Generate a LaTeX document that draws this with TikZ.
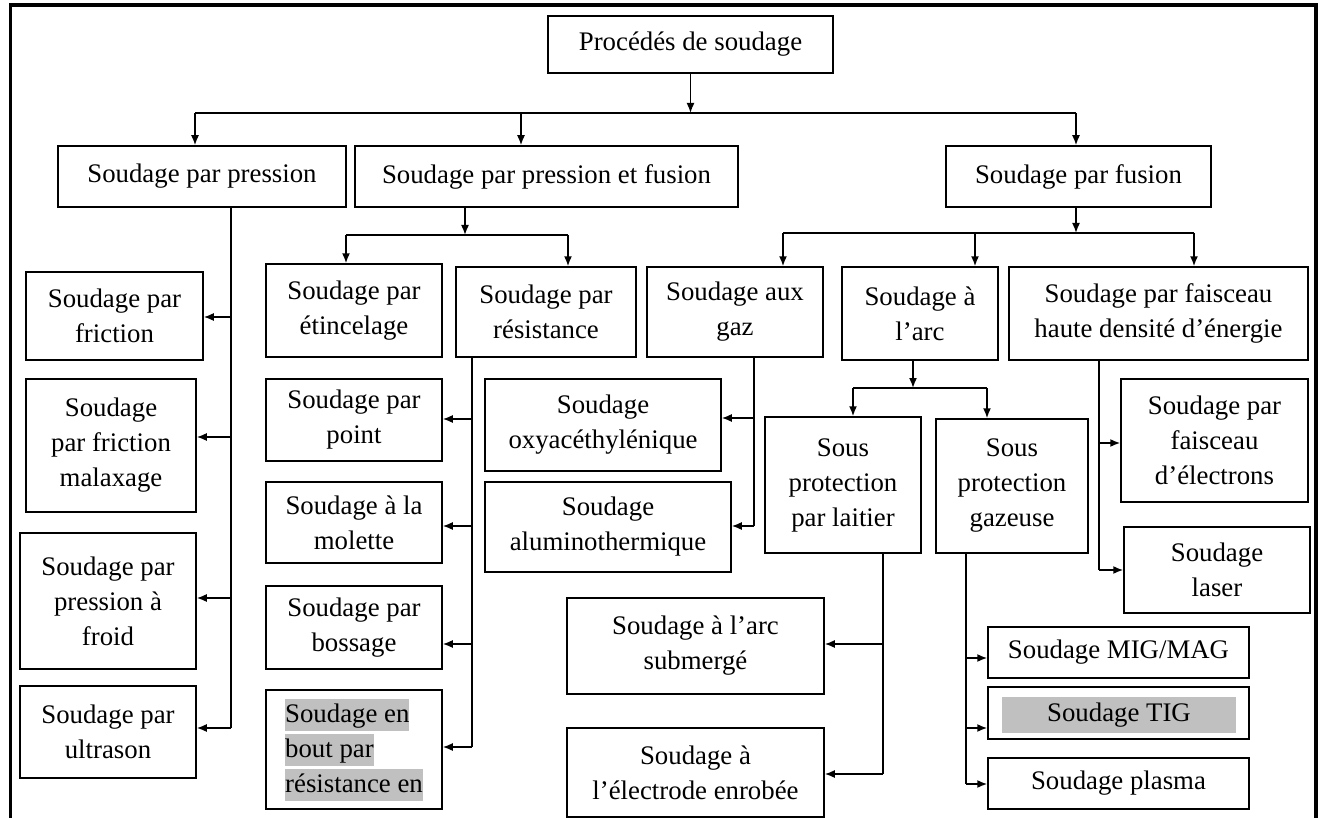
\documentclass[tikz,border=0pt]{standalone}
\usepackage{fontspec}
\setmainfont{Liberation Serif}
\usetikzlibrary{arrows.meta}
\definecolor{hlgray}{RGB}{192,192,192}
\newcommand{\hilite}[1]{{\fboxsep=0pt\colorbox{hlgray}{\rule[-8pt]{0pt}{32pt}#1}}}
\tikzset{
  box/.style={draw, line width=1.5pt, align=center, inner sep=2pt},
  wh/.style 2 args={minimum width=#1pt, minimum height=#2pt},
  arr/.style={-{Latex[length=10pt,width=8pt]}, line width=1.6pt},
  bus/.style={line width=1.6pt},
}

\begin{document}
\begin{tikzpicture}[x=1pt, y=-1pt, font=\fontsize{26.8}{35}\selectfont]
  \useasboundingbox (0,0) rectangle (1321,818);
  \draw[line width=3.5pt] (10.5,818) -- (10.5,5) -- (1316,5) -- (1316,818);

  \node[box, wh={285}{57}] (root) at (690.5,44.5) {Procédés de soudage};
  \node[box, wh={288}{61}] (pression) at (202,176.5) {Soudage par pression};
  \node[box, wh={383}{61}] (pf) at (546.5,176.5) {Soudage par pression et fusion};
  \node[box, wh={265}{61}] (fusion) at (1078.5,176.5) {Soudage par fusion};

  \node[box, wh={177}{88}] (fric) at (114.5,316) {Soudage par\\friction};
  \node[box, wh={170}{133}] (malax) at (111,445.5) {Soudage\\par friction\\malaxage};
  \node[box, wh={176}{136}] (froid) at (108,601) {Soudage par\\pression à\\froid};
  \node[box, wh={176}{92}] (ultra) at (108,732) {Soudage par\\ultrason};

  \node[box, wh={176}{93}] (etinc) at (354,310.5) {Soudage par\\étincelage};
  \node[box, wh={180}{90}] (resist) at (546,312) {Soudage par\\résistance};
  \node[box, wh={176}{82}] (point) at (354,420) {Soudage par\\point};
  \node[box, wh={176}{81}] (molette) at (354,522.5) {Soudage à la\\molette};
  \node[box, wh={176}{83}] (boss) at (354,627.5) {Soudage par\\bossage};
  \node[box, wh={176}{119}, align=left] (bout) at (354,749.5)
    {\hilite{Soudage en}\\\hilite{bout par}\\\hilite{résistance en}};

  \node[box, wh={176}{90}] (gaz) at (735,312) {Soudage aux\\gaz};
  \node[box, wh={236}{92}] (oxy) at (603,425) {Soudage\\oxyacéthylénique};
  \node[box, wh={246}{90}] (alumino) at (608,527) {Soudage\\aluminothermique};

  \node[box, wh={156}{93}] (arc) at (920,313.5) {Soudage à\\l’arc};
  \node[box, wh={156}{136}] (laitier) at (843,485) {Sous\\protection\\par laitier};
  \node[box, wh={152}{134}] (gazeuse) at (1012,486) {Sous\\protection\\gazeuse};
  \node[box, wh={257}{96}] (subm) at (695.5,646) {Soudage à l’arc\\submergé};
  \node[box, wh={257}{89}] (enrob) at (695.5,772.5) {Soudage à\\l’électrode enrobée};
  \node[box, wh={261}{51}] (mig) at (1118.5,652.5) {Soudage MIG/MAG};
  \node[fill=hlgray, wh={234}{36}, inner sep=0pt] (tigtext) at (1119,715) {Soudage TIG};
  \node[box, wh={261}{52}] (tig) at (1118.5,713) {};
  \node[box, wh={261}{51}] (plasma) at (1118.5,783.5) {Soudage plasma};

  \node[box, wh={299}{93}] (hde) at (1158.5,313.5) {Soudage par faisceau\\haute densité d’énergie};
  \node[box, wh={187}{123}] (electrons) at (1214.5,440.5) {Soudage par\\faisceau\\d’électrons};
  \node[box, wh={186}{86}] (laser) at (1217,570) {Soudage\\laser};

  % niveau 1
  \coordinate (b0) at (692,113);
  \coordinate (b1) at (195,113);
  \coordinate (b2) at (521,113);
  \coordinate (b3) at (1076,113);
  \draw[arr] (root.south) -- (root.south |- b0);
  \draw[bus] (b1) -- (b3);
  \draw[arr] (b1) -- (b1 |- pression.north);
  \draw[arr] (b2) -- (b2 |- pf.north);
  \draw[arr] (b3) -- (b3 |- fusion.north);

  % pression
  \coordinate (pv) at (231,728);
  \draw[bus] (pv |- pression.south) -- (pv);
  \foreach \yy/\n in {317/fric, 437/malax, 598/froid, 728/ultra} {
    \coordinate (pv\n) at (231,\yy);
    \draw[arr] (pv\n) -- (pv\n -| \n.east);
  }

  % pression et fusion
  \coordinate (f0) at (465,235);
  \coordinate (f1) at (346,235);
  \coordinate (f2) at (568,235);
  \draw[arr] (f0 |- pf.south) -- (f0);
  \draw[bus] (f1) -- (f2);
  \draw[arr] (f1) -- (f1 |- etinc.north);
  \draw[arr] (f2) -- (f2 |- resist.north);

  \coordinate (rv) at (472,747);
  \draw[bus] (rv |- resist.south) -- (rv);
  \foreach \yy/\n in {419/point, 526/molette, 644/boss, 747/bout} {
    \coordinate (rv\n) at (472,\yy);
    \draw[arr] (rv\n) -- (rv\n -| \n.east);
  }

  % fusion
  \coordinate (g0) at (1076,233);
  \coordinate (g1) at (783,233);
  \coordinate (g2) at (975,233);
  \coordinate (g3) at (1194,233);
  \draw[arr] (g0 |- fusion.south) -- (g0);
  \draw[bus] (g1) -- (g3);
  \draw[arr] (g1) -- (g1 |- gaz.north);
  \draw[arr] (g2) -- (g2 |- arc.north);
  \draw[arr] (g3) -- (g3 |- hde.north);

  \coordinate (gv) at (754,526);
  \draw[bus] (gv |- gaz.south) -- (gv);
  \foreach \yy/\n in {418/oxy, 526/alumino} {
    \coordinate (gv\n) at (754,\yy);
    \draw[arr] (gv\n) -- (gv\n -| \n.east);
  }

  \coordinate (a0) at (913,388);
  \coordinate (a1) at (853,388);
  \coordinate (a2) at (987,388);
  \draw[arr] (a0 |- arc.south) -- (a0);
  \draw[bus] (a1) -- (a2);
  \draw[arr] (a1) -- (a1 |- laitier.north);
  \draw[arr] (a2) -- (a2 |- gazeuse.north);

  \coordinate (lv) at (883,774);
  \draw[bus] (lv |- laitier.south) -- (lv);
  \foreach \yy/\n in {644/subm, 774/enrob} {
    \coordinate (lv\n) at (883,\yy);
    \draw[arr] (lv\n) -- (lv\n -| \n.east);
  }

  \coordinate (sv) at (966,784);
  \draw[bus] (sv |- gazeuse.south) -- (sv);
  \foreach \yy/\n in {658/mig, 728/tig, 784/plasma} {
    \coordinate (sv\n) at (966,\yy);
    \draw[arr] (sv\n) -- (sv\n -| \n.west);
  }

  \coordinate (hv) at (1099,570);
  \draw[bus] (hv |- hde.south) -- (hv);
  \foreach \yy/\n in {443/electrons, 570/laser} {
    \coordinate (hv\n) at (1099,\yy);
    \draw[arr] (hv\n) -- (hv\n -| \n.west);
  }
\end{tikzpicture}
\end{document}
